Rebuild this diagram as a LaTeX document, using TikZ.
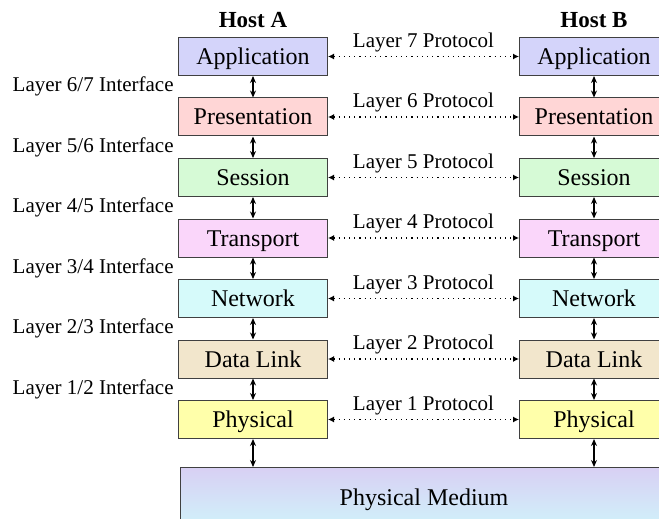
\documentclass[tikz,border=0pt]{standalone}
\usepackage{fontspec}
\setmainfont{Liberation Serif}
\usetikzlibrary{arrows.meta,positioning,calc}

\definecolor{appcol}{HTML}{D4D4FA}
\definecolor{prescol}{HTML}{FFD6D6}
\definecolor{sesscol}{HTML}{D6FAD6}
\definecolor{transcol}{HTML}{FAD6FA}
\definecolor{netcol}{HTML}{D6FAFA}
\definecolor{linkcol}{HTML}{F2E6CC}
\definecolor{physcol}{HTML}{FFFFAA}
\definecolor{medtop}{HTML}{D8D0F4}
\definecolor{medbot}{HTML}{D0F2FA}

\tikzset{
  layer/.style={draw=black!75,line width=0.5pt,minimum width=74.5pt,minimum height=19pt,
                inner sep=0pt,text height=8pt,text depth=0pt,font=\fontsize{12}{14}\selectfont},
  host/.style={font=\fontsize{11.5}{13}\selectfont\bfseries,inner sep=3pt},
  iface/.style={anchor=east,inner sep=0pt,xshift=-2pt,font=\fontsize{10.5}{12}\selectfont},
  proto/.style={inner sep=2pt,font=\fontsize{10.5}{12}\selectfont},
  protocol/.style={dotted,line width=0.6pt,{Latex[length=3pt,width=3pt]}-{Latex[length=3pt,width=3pt]}},
  stack/.style={line width=0.8pt,{Stealth[length=3.5pt,width=3pt]}-{Stealth[length=3.5pt,width=3pt]}}
}

\begin{document}
\begin{tikzpicture}[node distance=10.75pt,auto]

            \clip (0,0) rectangle (329.5pt,-259.5pt);
            \useasboundingbox (0,0) rectangle (329.5pt,-259.5pt);

            % host A stack

            \node[layer,fill=appcol,anchor=north west] (a7) at (89pt,-18.5pt) {Application};

            \node[layer,fill=prescol]   (a6) [below=of a7]  {Presentation};

            \node[layer,fill=sesscol]   (a5) [below=of a6]  {Session};

            \node[layer,fill=transcol]  (a4) [below=of a5]  {Transport};

            \node[layer,fill=netcol]    (a3) [below=of a4]  {Network};

            \node[layer,fill=linkcol]   (a2) [below=of a3]  {Data Link};

            \node[layer,fill=physcol]   (a1) [below=of a2]  {Physical};

            % host B stack

            \node[layer,fill=appcol]    (b7) [right=95.5pt of a7]  {Application};

            \node[layer,fill=prescol]   (b6) [right=95.5pt of a6]  {Presentation};

            \node[layer,fill=sesscol]   (b5) [right=95.5pt of a5]  {Session};

            \node[layer,fill=transcol]  (b4) [right=95.5pt of a4]  {Transport};

            \node[layer,fill=netcol]    (b3) [right=95.5pt of a3]  {Network};

            \node[layer,fill=linkcol]   (b2) [right=95.5pt of a2]  {Data Link};

            \node[layer,fill=physcol]   (b1) [right=95.5pt of a1]  {Physical};

            % medium and headings

            \node[layer,top color=medtop,bottom color=medbot,minimum width=243.5pt,minimum height=30pt]
                                        (med) [below right=14pt and 1pt of a1.south west,anchor=north west] {Physical Medium};

            \node[host]                 (hA) [above=1.5pt of a7]   {Host A};

            \node[host]                 (hB) [above=1.5pt of b7]   {Host B};

            % interfaces

            \node[iface] (i67) at ($(a7.south west)!.5!(a6.north west)$) {Layer 6/7 Interface};
            \node[iface] (i56) at ($(a6.south west)!.5!(a5.north west)$) {Layer 5/6 Interface};
            \node[iface] (i45) at ($(a5.south west)!.5!(a4.north west)$) {Layer 4/5 Interface};
            \node[iface] (i34) at ($(a4.south west)!.5!(a3.north west)$) {Layer 3/4 Interface};
            \node[iface] (i23) at ($(a3.south west)!.5!(a2.north west)$) {Layer 2/3 Interface};
            \node[iface] (i12) at ($(a2.south west)!.5!(a1.north west)$) {Layer 1/2 Interface};

            % peer protocols

            \path[protocol] (a7) edge node[proto] {Layer 7 Protocol} (b7)
                            (a6) edge node[proto] {Layer 6 Protocol} (b6)
                            (a5) edge node[proto] {Layer 5 Protocol} (b5)
                            (a4) edge node[proto] {Layer 4 Protocol} (b4)
                            (a3) edge node[proto] {Layer 3 Protocol} (b3)
                            (a2) edge node[proto] {Layer 2 Protocol} (b2)
                            (a1) edge node[proto] {Layer 1 Protocol} (b1);

            % service interfaces

            \path[stack]    (a7) edge (a6)  (a6) edge (a5)  (a5) edge (a4)
                            (a4) edge (a3)  (a3) edge (a2)  (a2) edge (a1)
                            (b7) edge (b6)  (b6) edge (b5)  (b5) edge (b4)
                            (b4) edge (b3)  (b3) edge (b2)  (b2) edge (b1)
                            (a1) edge (a1 |- med.north)
                            (b1) edge (b1 |- med.north);

        \end{tikzpicture}
\end{document}
